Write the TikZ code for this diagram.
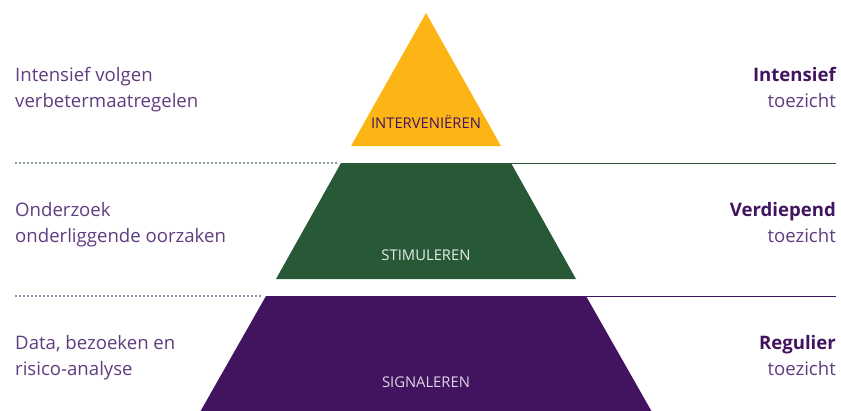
\documentclass[tikz,border=0pt]{standalone}
\usepackage{fontspec}
\setmainfont{Open Sans}
\usetikzlibrary{positioning}
\definecolor{geel}{HTML}{FDB515}
\definecolor{groen}{HTML}{275937}
\definecolor{paars}{HTML}{42145F}
\definecolor{lichtpaars}{HTML}{5F3C80}
\tikzstyle{links}=[anchor=base west, align=left, inner sep=0pt, text=lichtpaars, font=\fontsize{18.6}{26}\selectfont]
\tikzstyle{rechts}=[anchor=base east, align=right, inner sep=0pt, text=lichtpaars, font=\fontsize{18.6}{26}\selectfont]
\tikzstyle{laag}=[anchor=base, inner sep=0pt, font=\fontsize{14.8}{15}\selectfont]
\tikzstyle{scheiding}=[line width=0.9pt]
\tikzstyle{stippel}=[line width=1.3pt, dash pattern=on 2pt off 2pt]
\begin{document}
\begin{tikzpicture}[x=1pt,y=-1pt]
    \useasboundingbox (0,0) rectangle (841,410);
    % pyramide
    \coordinate (top) at (426,13);
    \coordinate (g1) at (341,163); \coordinate (g2) at (511,163);
    \coordinate (g3) at (576,279); \coordinate (g4) at (276,279);
    \coordinate (p1) at (266,296); \coordinate (p2) at (586,296);
    \coordinate (p3) at (652,412); \coordinate (p4) at (200,412);
    \fill[geel] (top) -- (501,146) -- (351,146) -- cycle;
    \fill[groen] (g1) -- (g2) -- (g3) -- (g4) -- cycle;
    \fill[paars] (p1) -- (p2) -- (p3) -- (p4) -- cycle;
    \node [laag, text=paars] (int) at (426,128) {INTERVENIËREN};
    \node [laag, text=white!88!groen] (stim) at (426,260) {STIMULEREN};
    \node [laag, text=white!82!paars] (sig) at (426,387) {SIGNALEREN};
    % scheidingslijnen
    \coordinate (l1) at (15,163); \coordinate (r1) at (836,163);
    \coordinate (l2) at (15,296); \coordinate (r2) at (836,296);
    \draw[stippel, groen!55!white] (l1) -- ([xshift=-3pt]g1);
    \draw[scheiding, groen] (g2) -- (r1);
    \draw[stippel, paars!50!white] (l2) -- ([xshift=-4pt]p1);
    \draw[scheiding, paars] (p2) -- (r2);
    % teksten (anker op de tweede regel)
    \node [links] (a) at (15,107) {Intensief volgen\\verbetermaatregelen};
    \node [links] (b) at (15,242) {Onderzoek\\onderliggende oorzaken};
    \node [links] (c) at (15,375) {Data, bezoeken en\\risico-analyse};
    \node [rechts] (d) at (836,107) {\textbf{\textcolor{paars}{Intensief}}\\toezicht};
    \node [rechts] (e) at (836,242) {\textbf{\textcolor{paars}{Verdiepend}}\\toezicht};
    \node [rechts] (f) at (836,375) {\textbf{\textcolor{paars}{Regulier}}\\toezicht};
\end{tikzpicture}
\end{document}
